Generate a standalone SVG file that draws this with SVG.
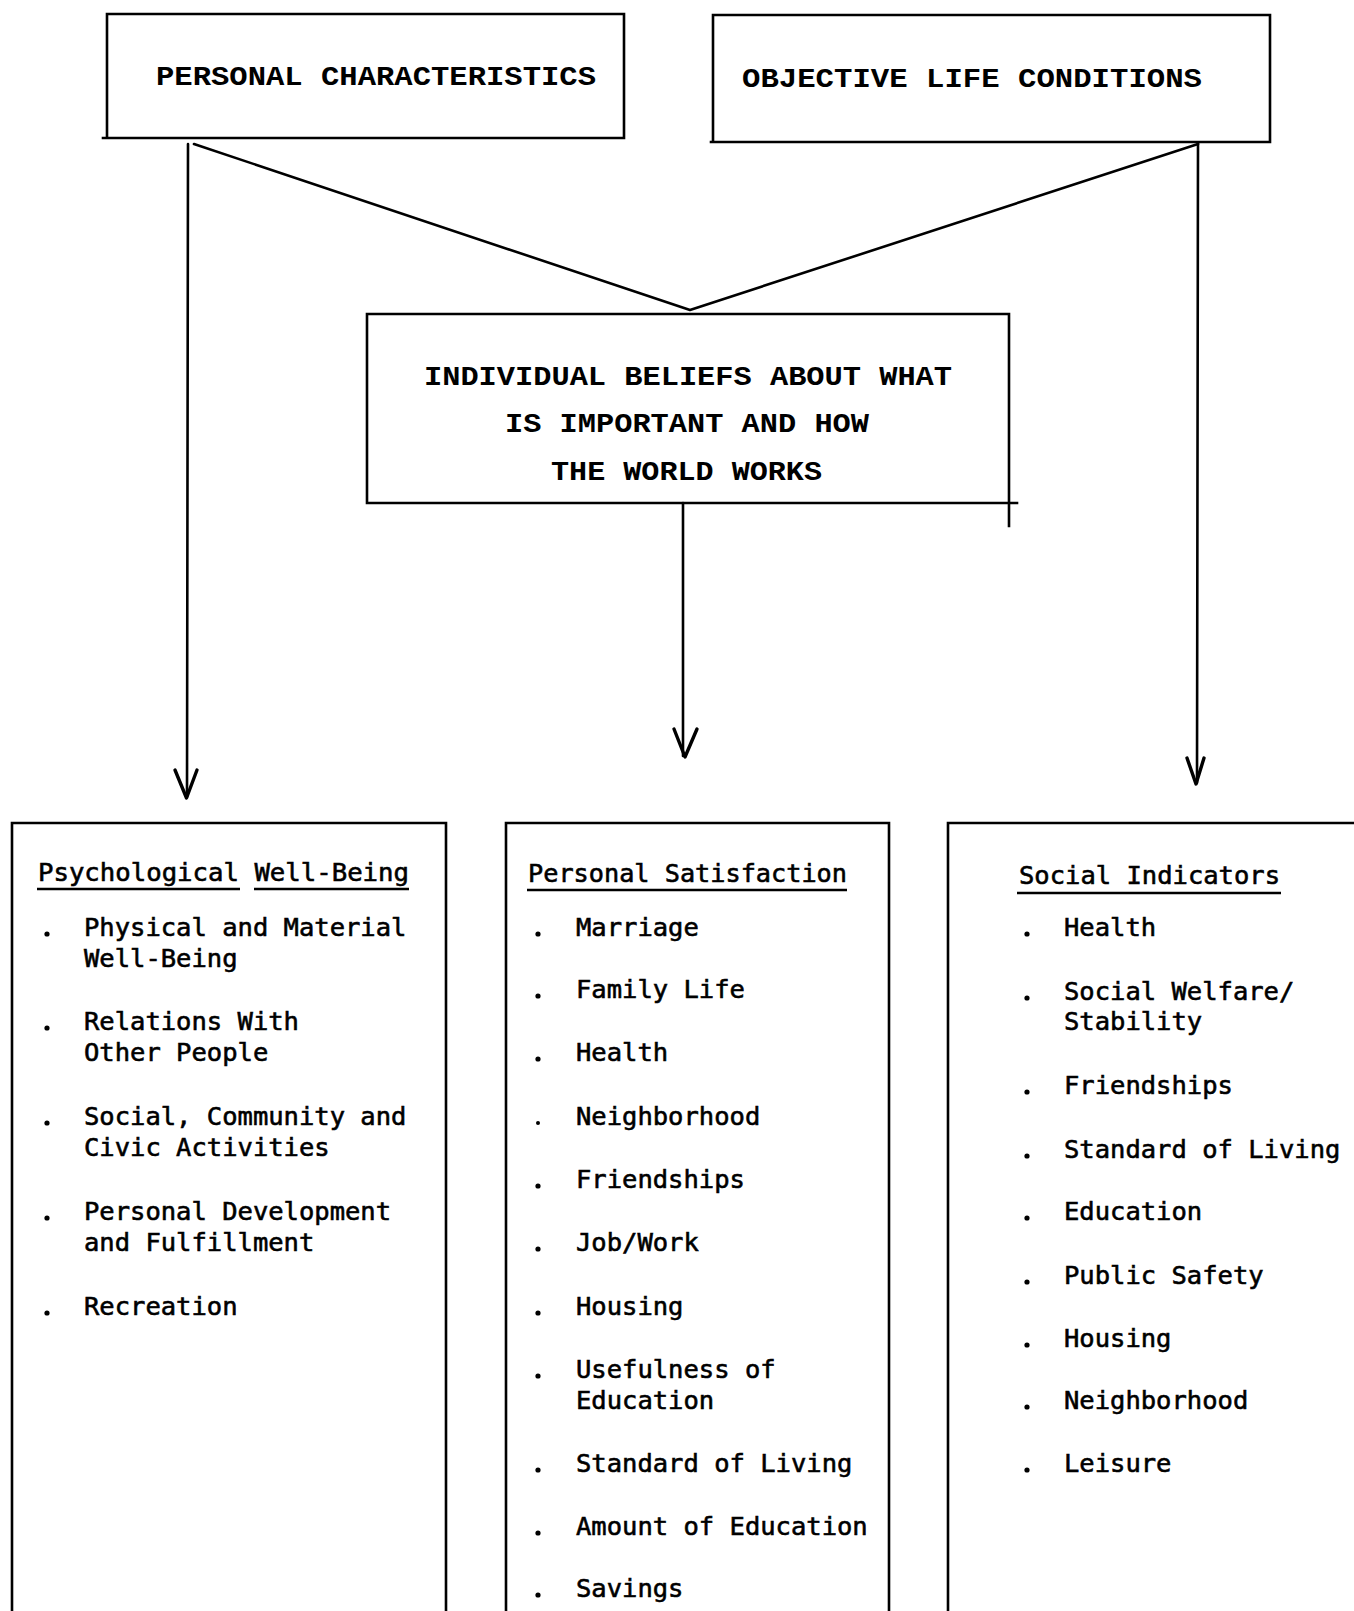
<svg xmlns="http://www.w3.org/2000/svg" width="1354" height="1611" viewBox="0 0 1354 1611">
<style>
.box{fill:none;stroke:#000;stroke-width:2.6;stroke-linecap:square}
.ln{fill:none;stroke:#000;stroke-width:2.6;stroke-linecap:round;stroke-linejoin:round}
.ah{fill:none;stroke:#000;stroke-width:3.4;stroke-linecap:round;stroke-linejoin:round}
.hd{font-family:"Liberation Mono","Courier New",monospace;font-weight:bold;font-size:28px;fill:#000}
.it{font-family:"DejaVu Sans Mono","Liberation Mono",monospace;font-size:25.5px;fill:#000;stroke:#000;stroke-width:0.6}
.ul{stroke:#000;stroke-width:2.4}
.dot{fill:#000}
</style>
<rect width="1354" height="1611" fill="#fff"/>
<g id="personal-characteristics">
<path class="box" d="M107 14 H624 V138 H103 M107 14 V138"/>
<text class="hd" x="156" y="85" textLength="440" lengthAdjust="spacingAndGlyphs">PERSONAL CHARACTERISTICS</text>
</g>
<g id="objective-life-conditions">
<path class="box" d="M713 15 H1270 V142 H711 M713 15 V142"/>
<text class="hd" x="742" y="87" textLength="460" lengthAdjust="spacingAndGlyphs">OBJECTIVE LIFE CONDITIONS</text>
</g>
<g id="individual-beliefs">
<path class="box" d="M367 314 H1009 V526 M367 314 V503 H1017"/>
<text class="hd" x="424" y="385" textLength="528" lengthAdjust="spacingAndGlyphs">INDIVIDUAL BELIEFS ABOUT WHAT</text>
<text class="hd" x="505" y="432" textLength="364" lengthAdjust="spacingAndGlyphs">IS IMPORTANT AND HOW</text>
<text class="hd" x="551" y="480" textLength="271" lengthAdjust="spacingAndGlyphs">THE WORLD WORKS</text>
</g>
<g id="connectors">
<path class="ln" d="M188 144 L187 797"/>
<path class="ah" d="M175 770 L186.5 798 L197 770"/>
<path class="ln" d="M194 144 L690 310 L1198 144"/>
<path class="ln" d="M1198 143 L1197 783"/>
<path class="ah" d="M1187 758 L1196 784 L1204 758"/>
<path class="ln" d="M683 503 L683 756"/>
<path class="ah" d="M674 729 L685 757 L697 729"/>
</g>
<g id="psychological-well-being">
<path class="box" d="M12 1611 V823 H446 V1611"/>
<text class="it" x="38" y="881" textLength="371" lengthAdjust="spacingAndGlyphs">Psychological Well-Being</text>
<line class="ul" x1="37" y1="889" x2="240" y2="889"/>
<line class="ul" x1="254" y1="889" x2="409" y2="889"/>
<g class="dot">
<circle cx="47" cy="934" r="2.6"/><circle cx="47" cy="1028" r="2.6"/><circle cx="47" cy="1123" r="2.6"/><circle cx="47" cy="1218" r="2.6"/><circle cx="47" cy="1313" r="2.6"/>
</g>
<g class="it">
<text x="84" y="936">Physical and Material</text>
<text x="84" y="967">Well-Being</text>
<text x="84" y="1030">Relations With</text>
<text x="84" y="1061">Other People</text>
<text x="84" y="1125">Social, Community and</text>
<text x="84" y="1156">Civic Activities</text>
<text x="84" y="1220">Personal Development</text>
<text x="84" y="1251">and Fulfillment</text>
<text x="84" y="1315">Recreation</text>
</g>
</g>
<g id="personal-satisfaction">
<path class="box" d="M506 1611 V823 H889 V1611"/>
<text class="it" x="528" y="882" textLength="319" lengthAdjust="spacingAndGlyphs">Personal Satisfaction</text>
<line class="ul" x1="527" y1="890" x2="847" y2="890"/>
<g class="dot">
<circle cx="538" cy="934" r="2.6"/><circle cx="538" cy="996" r="2.6"/><circle cx="538" cy="1059" r="2.6"/><circle cx="538" cy="1123" r="2"/><circle cx="538" cy="1186" r="2.6"/><circle cx="538" cy="1249" r="2.6"/><circle cx="538" cy="1313" r="2.6"/><circle cx="538" cy="1376" r="2.6"/><circle cx="538" cy="1470" r="2.6"/><circle cx="538" cy="1533" r="2.6"/><circle cx="538" cy="1595" r="2.6"/>
</g>
<g class="it">
<text x="576" y="936">Marriage</text>
<text x="576" y="998">Family Life</text>
<text x="576" y="1061">Health</text>
<text x="576" y="1125">Neighborhood</text>
<text x="576" y="1188">Friendships</text>
<text x="576" y="1251">Job/Work</text>
<text x="576" y="1315">Housing</text>
<text x="576" y="1378">Usefulness of</text>
<text x="576" y="1409">Education</text>
<text x="576" y="1472">Standard of Living</text>
<text x="576" y="1535">Amount of Education</text>
<text x="576" y="1597">Savings</text>
</g>
</g>
<g id="social-indicators">
<path class="box" d="M948 1611 V823 H1354"/>
<text class="it" x="1019" y="884" textLength="261" lengthAdjust="spacingAndGlyphs">Social Indicators</text>
<line class="ul" x1="1017" y1="893" x2="1281" y2="893"/>
<g class="dot">
<circle cx="1027" cy="934" r="2.6"/><circle cx="1027" cy="998" r="2.6"/><circle cx="1027" cy="1092" r="2.6"/><circle cx="1027" cy="1156" r="2.6"/><circle cx="1027" cy="1218" r="2.6"/><circle cx="1027" cy="1282" r="2.6"/><circle cx="1027" cy="1345" r="2.6"/><circle cx="1027" cy="1407" r="2.6"/><circle cx="1027" cy="1470" r="2.6"/>
</g>
<g class="it">
<text x="1064" y="936">Health</text>
<text x="1064" y="1000">Social Welfare/</text>
<text x="1064" y="1030">Stability</text>
<text x="1064" y="1094">Friendships</text>
<text x="1064" y="1158">Standard of Living</text>
<text x="1064" y="1220">Education</text>
<text x="1064" y="1284">Public Safety</text>
<text x="1064" y="1347">Housing</text>
<text x="1064" y="1409">Neighborhood</text>
<text x="1064" y="1472">Leisure</text>
</g>
</g>
</svg>
